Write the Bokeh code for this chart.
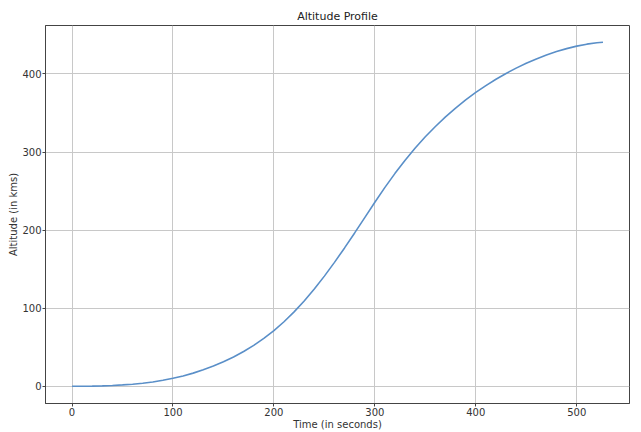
from bokeh.plotting import figure
from bokeh.embed import file_html
from bokeh.resources import INLINE
from bokeh.models import Range1d, FixedTicker

time_s = [0, 10, 20, 30, 40, 50, 60, 70, 80, 90, 100, 110, 120, 130, 140,
          150, 160, 170, 180, 190, 200, 210, 220, 230, 240, 250, 260, 270,
          280, 290, 300, 310, 320, 330, 340, 350, 360, 370, 380, 390, 400,
          410, 420, 430, 440, 450, 460, 470, 480, 490, 500, 510, 520, 526]
altitude_km = [0, 0.05, 0.25, 0.6, 1.1, 1.8, 2.7, 3.9, 5.5, 7.7, 10.3, 13.3,
               16.9, 21.1, 25.9, 31.4, 37.6, 44.6, 52.5, 61.4, 71.4, 82.7,
               95.3, 109.3, 124.6, 141.1, 158.7, 177.2, 196.4, 216.0, 235.7,
               254.7, 272.7, 289.5, 305.1, 319.5, 332.7, 345.0, 356.3, 366.7,
               376.3, 385.1, 393.2, 400.6, 407.4, 413.6, 419.2, 424.2, 428.6,
               432.4, 435.6, 438.1, 439.9, 440.5]
x_ticks = [0, 100, 200, 300, 400, 500]
y_ticks = [0, 100, 200, 300, 400]

FONT = "DejaVu Sans"

p = figure(width=633, height=432, output_backend="svg", toolbar_location=None,
           x_range=Range1d(-26.3, 552.3), y_range=Range1d(-22, 462),
           title="Altitude Profile", min_border_left=45, min_border_right=4,
           min_border_top=25, min_border_bottom=0)

p.line(time_s, altitude_km, line_color="#5a8fc8", line_width=1.6)

p.title.align = "center"
p.title.text_font = FONT
p.title.text_font_size = "11px"
p.title.text_font_style = "normal"
p.title.text_color = "#222222"
p.title.standoff = 6

for ax in (p.xaxis[0], p.yaxis[0]):
    ax.axis_line_color = "#444444"
    ax.major_tick_line_color = "#444444"
    ax.minor_tick_line_color = None
    ax.major_tick_out = 3
    ax.major_tick_in = 0
    ax.major_label_text_font = FONT
    ax.major_label_text_font_size = "10px"
    ax.major_label_text_color = "#333333"
    ax.axis_label_text_font = FONT
    ax.axis_label_text_font_size = "10px"
    ax.axis_label_text_font_style = "normal"
    ax.axis_label_text_color = "#333333"
    ax.major_label_standoff = 1
    ax.axis_label_standoff = 0

p.xaxis.ticker = FixedTicker(ticks=x_ticks)
p.yaxis.ticker = FixedTicker(ticks=y_ticks)
p.xaxis.axis_label = "Time (in seconds)"
p.yaxis.axis_label = "Altitude (in kms)"

p.xgrid.ticker = FixedTicker(ticks=x_ticks)
p.ygrid.ticker = FixedTicker(ticks=y_ticks)
p.grid.grid_line_color = "#c8c8c8"
p.grid.grid_line_width = 1

p.outline_line_color = "#444444"
p.outline_line_width = 1
p.background_fill_color = "white"
p.border_fill_color = "white"

open("out.html", "w").write(file_html(p, INLINE))
